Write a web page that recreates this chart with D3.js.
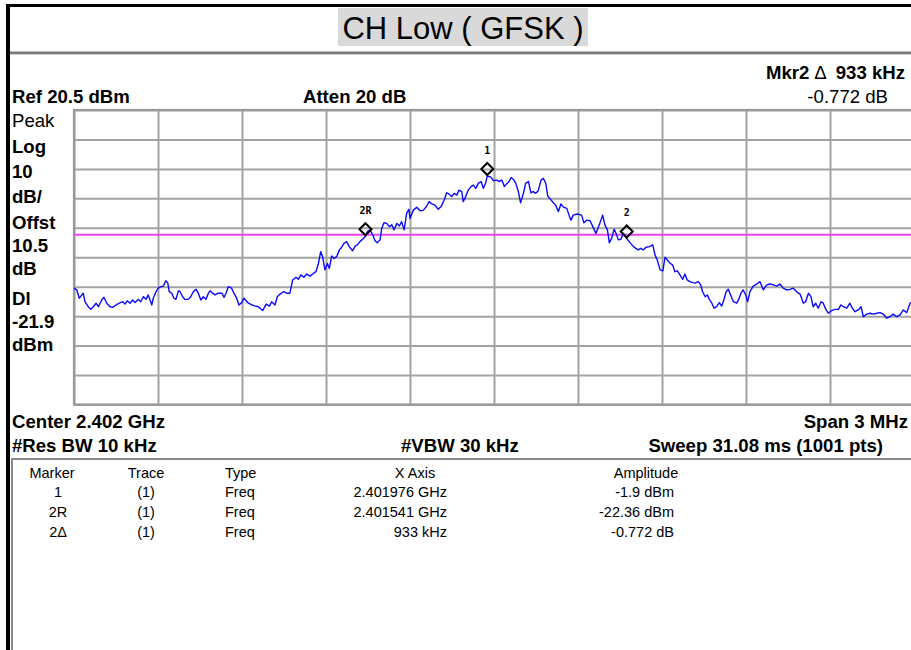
<!DOCTYPE html>
<html><head><meta charset="utf-8">
<script src="https://cdn.jsdelivr.net/npm/d3@7"></script>
<style>
html,body{margin:0;padding:0;background:#fff;overflow:hidden;}
svg{display:block;}
text{font-family:"Liberation Sans",Arial,sans-serif;fill:#000;}
</style></head><body>
<svg id="c" width="911" height="650"></svg>
<script>
// Frequency of each trace point, kHz above the start frequency (2400.5 MHz); span 3 MHz
const freqKHz = [
0,10,19,28,33,39,51,60,69,79,87,99,107,117,129,138,150,162,174,182,
190,200,210,218,230,238,248,257,265,278,283,293,301,310,319,328,335,340,349,357,
364,373,379,388,396,408,417,426,436,444,453,462,471,480,486,495,504,515,528,536,
543,551,563,571,581,589,599,607,
623,635,646,658,674,686,698,706,718,726,736,748,760,771,781,793,801,810,821,831,
843,855,864,873,881,888,896,905,912,920,929,938,948,956,964,974,983,995,1004,1012,
1021,1031,1041,1048,1057,1067,1075,1083,1093,1099,1107,1117,1126,1135,1143,1153,1162,1170,1179,1188,
1196,
1200,1212,1224,1236,1248,1260,1268,1278,1289,1301,1311,1323,1331,1339,1349,1358,1367,1375,1385,1390,
1399,1408,1418,1426,1435,1444,1454,1462,1470,1476,1489,1498,1510,1519,1528,1537,1545,1554,1561,1569,
1578,1587,1595,1605,1613,1623,1632,1640,1649,1658,1668,1676,1685,1692,1704,1712,1720,1730,1739,1748,
1760,1768,1775,1783,
1798,1813,1821,1831,1843,1853,1864,1876,1888,1896,1905,1912,1920,1929,1936,1944,1953,1962,1974,1988,
1998,2007,2015,2024,2033,2043,2055,2067,2075,2083,2093,2103,2111,2119,2129,2138,2146,2155,2164,2174,
2182,2190,2200,2210,2218,2230,2238,2245,2254,2262,2269,2278,2286,2295,2305,2313,2321,2329,2337,2345,
2355,2367,2373,
2382,2390,2399,2406,2414,2426,2438,2450,2462,2474,2486,2498,2510,2521,2533,2545,2557,2569,2581,2593,
2605,2613,2623,2632,2640,2649,2658,2668,2676,2685,2694,2706,2718,2730,2739,2748,2760,2771,2780,2789,
2801,2811,2819,2831,2843,2855,2867,2879,2890,2903,2914,2926,2938,2950,2962,2974,2986,3000
];
// Trace level, dBm
const levelDbm = [
-40.0,-40.6,-43.4,-42.3,-41.7,-44.6,-46.3,-47.2,-46.3,-45.1,-46.3,-44.0,-43.1,-45.1,-46.3,-46.5,-45.7,-45.1,-44.6,-45.4,
-44.3,-45.1,-44.0,-44.9,-43.8,-44.6,-42.9,-43.8,-42.3,-45.7,-43.4,-41.2,-40.0,-39.5,-39.3,-37.5,-38.3,-41.2,-41.7,-43.4,
-43.8,-40.9,-41.2,-42.9,-43.8,-43.8,-42.9,-41.2,-40.4,-41.7,-44.0,-42.9,-43.8,-41.7,-40.9,-41.7,-42.3,-41.7,-41.7,-43.1,
-41.7,-39.5,-40.0,-41.7,-43.4,-45.7,-44.9,-43.4,
-45.1,-45.7,-46.0,-46.3,-47.6,-45.4,-46.1,-44.6,-45.7,-42.9,-42.0,-41.2,-41.7,-41.7,-37.2,-36.3,-37.0,-35.5,-36.3,-35.2,
-35.9,-35.0,-34.4,-31.6,-27.6,-29.3,-33.8,-31.6,-33.3,-29.1,-29.9,-29.3,-27.0,-26.1,-24.8,-24.2,-25.9,-27.3,-25.7,-25.3,
-24.2,-23.4,-22.36,-20.8,-20.2,-21.9,-23.9,-24.6,-23.6,-19.7,-17.8,-18.0,-19.1,-18.5,-20.2,-18.0,-18.9,-17.4,-20.2,-14.6,
-13.2,
-16.3,-13.5,-12.5,-13.7,-13.5,-12.1,-10.6,-11.4,-11.8,-13.2,-12.3,-9.8,-7.6,-8.0,-8.9,-7.8,-8.4,-6.7,-7.2,-10.6,
-8.9,-6.7,-5.5,-5.0,-6.1,-4.4,-3.8,-6.1,-4.4,-1.9,-2.3,-3.5,-3.3,-3.8,-3.3,-5.5,-4.6,-3.8,-2.4,-3.0,
-4.4,-7.2,-11.0,-7.8,-4.4,-3.8,-7.6,-7.2,-7.8,-6.9,-3.3,-2.7,-4.4,-8.7,-10.1,-11.0,-11.8,-14.0,-11.4,-12.5,
-12.9,-15.2,-16.9,-15.2,
-14.8,-15.2,-17.8,-16.9,-17.1,-19.1,-21.4,-18.5,-15.2,-18.5,-20.2,-24.6,-23.1,-20.0,-21.4,-23.6,-23.4,-21.4,-23.13,-24.8,
-25.9,-26.5,-27.0,-26.5,-27.0,-26.1,-25.9,-25.3,-28.7,-30.4,-33.8,-34.1,-29.5,-30.4,-31.6,-32.1,-34.4,-34.1,-35.5,-37.0,
-35.2,-37.2,-37.8,-38.1,-38.3,-37.8,-38.9,-41.2,-42.9,-42.3,-43.8,-45.1,-46.8,-46.3,-44.9,-46.1,-44.0,-41.2,-40.4,-42.3,
-44.6,-45.1,-44.0,
-41.7,-40.6,-42.3,-44.6,-41.2,-39.3,-38.6,-37.8,-40.6,-38.9,-38.6,-38.9,-39.3,-38.6,-40.0,-40.6,-40.4,-40.0,-41.2,-42.0,
-45.1,-44.6,-41.7,-42.9,-46.3,-45.1,-46.8,-44.6,-45.1,-47.2,-48.5,-47.6,-47.2,-47.2,-45.7,-46.3,-46.8,-45.1,-46.8,-48.0,
-47.4,-46.3,-49.7,-48.8,-48.5,-48.8,-48.5,-48.3,-48.8,-50.2,-49.7,-48.8,-49.7,-49.1,-47.4,-48.3,-45.1,-44.0
];
// Graticule: 10 divisions each way (300 kHz/div, 10 dB/div from Ref 20.5 dBm)
const xGridKHz = [0,300,600,900,1200,1500,1800,2100,2400,2700,3000];
const yGridDbm = [20.5,10.5,0.5,-9.5,-19.5,-29.5,-39.5,-49.5,-59.5,-69.5,-79.5];
const displayLineDbm = -21.9;

// Markers
const markerNames = ["1","2R","2"];
const markerKHz = [1476, 1041, 1974];
const markerDbm = [-1.9, -22.36, -23.132];

// Texts
const titleText = "CH Low ( GFSK )";
const leftLabels = ["Peak","Log","10","dB/","Offst","10.5","dB","Dl","-21.9","dBm"];
const leftBold = [false,true,true,true,true,true,true,true,true,true];
const tableHeaders = ["Marker","Trace","Type","X Axis","Amplitude"];
const tableMarker = ["1","2R","2\u0394"];
const tableTrace = ["(1)","(1)","(1)"];
const tableType = ["Freq","Freq","Freq"];
const tableX = ["2.401976 GHz","2.401541 GHz","933 kHz"];
const tableAmp = ["-1.9 dBm","-22.36 dBm","-0.772 dB"];

const svg = d3.select("#c");
const L = 74, R = 914, T = 110, B = 404.5;
const x = d3.scaleLinear().domain([0,3000]).range([L,R]);
const y = d3.scaleLinear().domain([-79.5,20.5]).range([B,T]);

// frame
svg.append("rect").attr("x",6).attr("y",4).attr("width",905).attr("height",3).attr("fill","#000");
svg.append("rect").attr("x",6).attr("y",4).attr("width",4).attr("height",646).attr("fill","#000");
// title
svg.append("rect").attr("x",338).attr("y",8).attr("width",250).attr("height",38).attr("fill","#d9d9d9");
svg.append("text").attr("x",463).attr("y",38.5).attr("text-anchor","middle")
  .style("font-size","31px").text(titleText);
svg.append("rect").attr("x",10).attr("y",51.5).attr("width",901).attr("height",2.5).attr("fill","#7a7a7a");
svg.append("rect").attr("x",10).attr("y",54).attr("width",901).attr("height",1).attr("fill","#cfcfcf");

// header texts
const fs = "18.6px";
const mk = svg.append("text").attr("x",905).attr("y",79).attr("text-anchor","end").style("font-size",fs);
mk.append("tspan").style("font-weight","bold").text("Mkr2");
mk.append("tspan").attr("dx",5).text("\u0394");
mk.append("tspan").attr("dx",9).style("font-weight","bold").text("933 kHz");
svg.append("text").attr("x",888).attr("y",103).attr("text-anchor","end").style("font-size",fs).text("-0.772 dB");
svg.append("text").attr("x",12).attr("y",103).style("font-size",fs).style("font-weight","bold").text("Ref 20.5 dBm");
svg.append("text").attr("x",303).attr("y",103).style("font-size",fs).style("font-weight","bold").text("Atten 20 dB");

const leftY = [127,153,177.5,202.5,229,252,274.5,305,328,351];
svg.selectAll("text.left").data(leftLabels).enter().append("text").attr("class","left")
  .attr("x",12).attr("y",(d,i)=>leftY[i]).style("font-size",fs)
  .style("font-weight",(d,i)=>leftBold[i]?"bold":"normal").text(d=>d);

// grid via axes
const gx = svg.append("g").attr("transform",`translate(0,${B})`)
  .call(d3.axisBottom(x).tickValues(xGridKHz).tickSize(-(B-T)).tickFormat(""));
const gy = svg.append("g").attr("transform",`translate(${L},0)`)
  .call(d3.axisLeft(y).tickValues(yGridDbm).tickSize(-(R-L)).tickFormat(""));
[gx,gy].forEach(g=>{
  g.select(".domain").remove();
  g.selectAll(".tick line").attr("stroke","#a3a3a3").attr("stroke-width",2);
});
svg.append("rect").attr("x",L).attr("y",T).attr("width",R-L).attr("height",B-T)
  .attr("fill","none").attr("stroke","#999").attr("stroke-width",2.2);

// display line
svg.append("line").attr("x1",L).attr("x2",R).attr("y1",y(displayLineDbm)).attr("y2",y(displayLineDbm))
  .attr("stroke","#f040f0").attr("stroke-width",2);

// trace
svg.append("clipPath").attr("id","pc").append("rect").attr("x",L).attr("y",T).attr("width",R-L).attr("height",B-T);
const pts = freqKHz.map((f,i)=>[f,levelDbm[i]]);
svg.append("path").datum(pts).attr("clip-path","url(#pc)")
  .attr("d",d3.line().x(d=>x(d[0])).y(d=>y(d[1])))
  .attr("fill","none").attr("stroke","#0a0aff").attr("stroke-width",1.4).attr("stroke-linejoin","round");

// markers
const mg = svg.selectAll("g.mk").data(markerNames).enter().append("g").attr("class","mk")
  .attr("transform",(d,i)=>`translate(${x(markerKHz[i])},${y(markerDbm[i])})`);
mg.append("path").attr("d","M0,-13 L6,-7 L0,-1 L-6,-7 Z").attr("fill","none").attr("stroke","#000").attr("stroke-width",2);
mg.append("text").attr("y",-22).attr("text-anchor","middle")
  .style("font-family","'DejaVu Sans Mono',monospace").style("font-size","10px").style("font-weight","bold")
  .text(d=>d);

// bottom labels
svg.append("text").attr("x",12).attr("y",428).style("font-size",fs).style("font-weight","bold").text("Center 2.402 GHz");
svg.append("text").attr("x",908).attr("y",428).attr("text-anchor","end").style("font-size",fs).style("font-weight","bold").text("Span 3 MHz");
svg.append("text").attr("x",12).attr("y",452).style("font-size",fs).style("font-weight","bold").text("#Res BW 10 kHz");
svg.append("text").attr("x",401).attr("y",452).style("font-size",fs).style("font-weight","bold").text("#VBW 30 kHz");
svg.append("text").attr("x",883).attr("y",452).attr("text-anchor","end").style("font-size",fs).style("font-weight","bold").text("Sweep 31.08 ms (1001 pts)");

// table
svg.append("path").attr("d","M12,652 L12,459 L913,459").attr("fill","none").attr("stroke","#8a8a8a").attr("stroke-width",2);
const tfs = "14.5px";
const hx = [52,146,225,415,646];
const ha = ["middle","middle","start","middle","middle"];
svg.selectAll("text.th").data(tableHeaders).enter().append("text").attr("class","th")
  .attr("x",(d,i)=>hx[i]).attr("y",478).attr("text-anchor",(d,i)=>ha[i]).style("font-size",tfs).text(d=>d);
const rowY = [497,517,537];
const cols = [[tableMarker,58,"middle"],[tableTrace,146,"middle"],[tableType,225,"start"],[tableX,447,"end"],[tableAmp,674,"end"]];
cols.forEach(([arr,cx,anc])=>{
  svg.selectAll(null).data(arr).enter().append("text").attr("x",cx).attr("y",(d,i)=>rowY[i])
    .attr("text-anchor",anc).style("font-size",tfs).text(d=>d);
});
</script>
</body></html>
